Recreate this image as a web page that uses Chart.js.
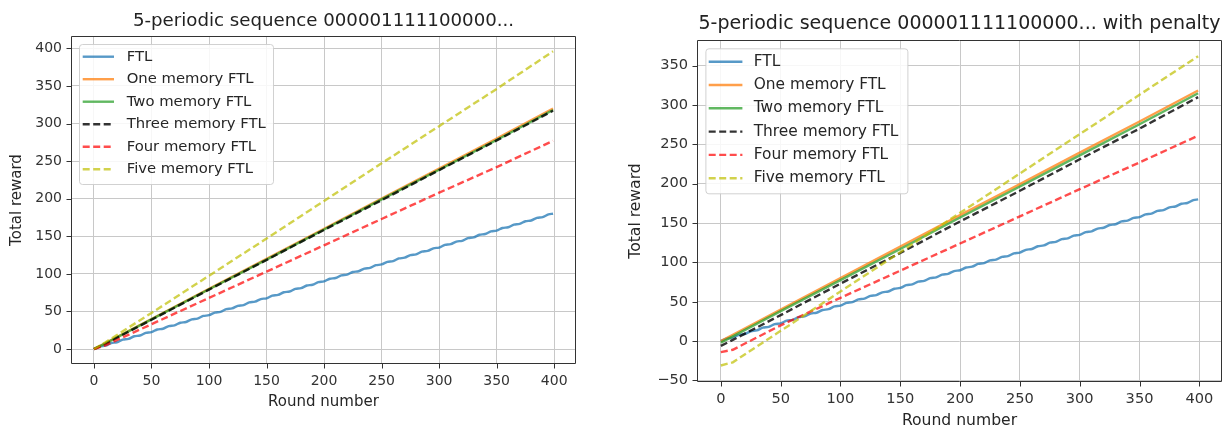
<!DOCTYPE html>
<html>
<head>
<meta charset="utf-8">
<script src="https://cdn.jsdelivr.net/npm/chart.js@4.4.1/dist/chart.umd.min.js"></script>
<style>
  html, body { margin: 0; padding: 0; background: #fff; }
  #wrap { position: relative; width: 1225px; height: 430px; }
  #left-chart { position: absolute; left: 0; top: 0; }
  #right-chart { position: absolute; left: 600px; top: 0; }
</style>
</head>
<body>
<div id="wrap">
  <canvas id="left-chart" width="600" height="430"></canvas>
  <canvas id="right-chart" width="625" height="430"></canvas>
</div>
<script>
// Noms des séries (légende)
const seriesNames = ['FTL', 'One memory FTL', 'Two memory FTL', 'Three memory FTL', 'Four memory FTL', 'Five memory FTL'];

// Rounds
const rounds = [0, 10, 50, 100, 150, 200, 250, 300, 350, 399];
const ftlRounds = [0, 5, 10, 15, 20, 25, 30, 35, 40, 45, 50, 55, 60, 65, 70, 75, 80, 85, 90, 95,
    100, 105, 110, 115, 120, 125, 130, 135, 140, 145, 150, 155, 160, 165, 170, 175, 180, 185, 190, 195,
    200, 205, 210, 215, 220, 225, 230, 235, 240, 245, 250, 255, 260, 265, 270, 275, 280, 285, 290, 295,
    300, 305, 310, 315, 320, 325, 330, 335, 340, 345, 350, 355, 360, 365, 370, 375, 380, 385, 390, 395, 399];

// FTL (identique sur les deux graphiques)
const ftlReward = [0, 3.5, 4.5, 8, 9, 12.5, 13.5, 17, 18, 21.5, 22.5, 26, 27, 30.5, 31.5, 35, 36, 39.5, 40.5, 44,
    45, 48.5, 49.5, 53, 54, 57.5, 58.5, 62, 63, 66.5, 67.5, 71, 72, 75.5, 76.5, 80, 81, 84.5, 85.5, 89,
    90, 93.5, 94.5, 98, 99, 102.5, 103.5, 107, 108, 111.5, 112.5, 116, 117, 120.5, 121.5, 125, 126, 129.5, 130.5, 134,
    135, 138.5, 139.5, 143, 144, 147.5, 148.5, 152, 153, 156.5, 157.5, 161, 162, 165.5, 166.5, 170, 171, 174.5, 175.5, 179, 180];

// Graphique de gauche
const oneMem = [0, 8, 40, 80, 120, 160, 200, 240, 280, 320];
const twoMem = [0, 7.5, 39.5, 79.5, 119, 159, 199, 238.5, 278, 318];
const threeMem = [0, 7, 39, 79, 118.5, 158.5, 198, 238, 277.5, 317];
const fourMem = [0, 5, 33, 68, 103, 138, 173, 208, 242, 277];
const fiveMem = [0, 9, 48, 97.5, 147, 197, 247, 296.5, 346, 396];

// Graphique de droite (avec pénalité)
const oneMemPen = [0, 8, 40, 80, 120, 160, 199.5, 239.5, 279, 318.5];
const twoMemPen = [-2, 6, 38, 77.5, 117, 157, 196.5, 236, 275.5, 315];
const threeMemPen = [-6, 1.5, 33, 73, 112, 152, 191, 231, 270, 310];
const fourMemPen = [-14, -11, 20, 55, 89.5, 124, 158.5, 193, 227, 261];
const fiveMemPen = [-31, -27, 13, 63, 113, 163, 213, 263, 313, 362];

const xTicks = [0, 50, 100, 150, 200, 250, 300, 350, 400];

// Styles des lignes
const lineColors = ['rgba(31,119,180,0.75)', 'rgba(255,127,14,0.75)', 'rgba(44,160,44,0.75)',
    'rgba(0,0,0,0.8)', 'rgba(255,0,0,0.7)', 'rgba(191,191,0,0.7)'];
const lineDashes = [[], [], [], [7, 3.5], [7, 3.5], [7, 3.5]];

function toPoints(xs, ys) {
    return xs.map((x, i) => ({ x: x, y: ys[i] }));
}

function buildDatasets(series) {
    return series.map((s, i) => ({
        label: seriesNames[i],
        data: toPoints(s.x, s.y),
        borderColor: lineColors[i],
        borderDash: lineDashes[i],
        borderWidth: 2.4,
        pointRadius: 0,
        fill: false,
        cubicInterpolationMode: i === 0 ? 'monotone' : 'default',
        order: 6 - i
    }));
}

// Cadre complet, petites graduations et légende encadrée
const boxPlugin = {
    id: 'boxLegend',
    afterDraw(chart, args, opts) {
        const { ctx, chartArea: a } = chart;
        const L = Math.round(a.left) + 0.5, R = Math.round(a.right) - 0.5;
        const T = Math.round(a.top) + 0.5, B = Math.round(a.bottom) - 0.5;
        ctx.save();
        ctx.strokeStyle = '#333';
        ctx.lineWidth = 1;
        ctx.beginPath();
        ctx.moveTo(L, T); ctx.lineTo(R, T); ctx.lineTo(R, B); ctx.lineTo(L, B); ctx.closePath();
        // graduations extérieures
        chart.scales.x.ticks.forEach(t => {
            const px = Math.round(chart.scales.x.getPixelForValue(t.value)) + 0.5;
            ctx.moveTo(px, B); ctx.lineTo(px, B + 5);
        });
        chart.scales.y.ticks.forEach(t => {
            const py = Math.round(chart.scales.y.getPixelForValue(t.value)) + 0.5;
            ctx.moveTo(L, py); ctx.lineTo(L - 5, py);
        });
        ctx.stroke();

        const x = a.left + opts.dx, y = a.top + opts.dy;
        ctx.beginPath();
        ctx.roundRect(x + 0.5, y + 0.5, opts.w, opts.h, 3);
        ctx.fillStyle = 'rgba(255,255,255,0.85)';
        ctx.fill();
        ctx.strokeStyle = 'rgba(204,204,204,0.9)';
        ctx.stroke();
        ctx.font = opts.fontSize + 'px "DejaVu Sans"';
        ctx.textBaseline = 'middle';
        chart.data.datasets.forEach((ds, i) => {
            const rowY = y + opts.first + i * opts.rowH;
            ctx.beginPath();
            ctx.setLineDash(ds.borderDash);
            ctx.strokeStyle = ds.borderColor;
            ctx.lineWidth = 2.4;
            ctx.moveTo(x + opts.sx0, rowY);
            ctx.lineTo(x + opts.sx1, rowY);
            ctx.stroke();
            ctx.setLineDash([]);
            ctx.fillStyle = '#262626';
            ctx.fillText(ds.label, x + opts.tx, rowY);
        });
        ctx.restore();
    }
};

function makeChart(id, cfg) {
    const fontSize = cfg.fontSize;
    return new Chart(document.getElementById(id), {
        type: 'line',
        data: { datasets: buildDatasets(cfg.series) },
        plugins: [boxPlugin],
        options: {
            responsive: false,
            animation: false,
            layout: { padding: { left: 0, right: cfg.padRight, top: 0, bottom: 0 } },
            plugins: {
                legend: { display: false },
                tooltip: { enabled: false },
                title: {
                    display: true,
                    text: cfg.title,
                    fullSize: false,
                    color: '#222',
                    font: { family: 'DejaVu Sans', size: cfg.titleSize, weight: 'normal', lineHeight: 1.2 },
                    padding: { top: cfg.titleTop, bottom: cfg.titleBottom }
                },
                boxLegend: cfg.legend
            },
            scales: {
                x: {
                    type: 'linear',
                    min: -19.95,
                    max: 418.95,
                    afterFit: (s) => { s.height = cfg.xHeight; },
                    afterBuildTicks: (s) => { s.ticks = xTicks.map(v => ({ value: v })); },
                    ticks: {
                        color: '#333',
                        padding: cfg.xTickPad,
                        maxRotation: 0,
                        font: { family: 'DejaVu Sans', size: fontSize }
                    },
                    grid: { color: '#c8c8c8', lineWidth: 1, drawTicks: true, tickLength: 5, tickColor: 'rgba(0,0,0,0)' },
                    border: { display: false },
                    title: {
                        display: true,
                        text: 'Round number',
                        color: '#262626',
                        font: { family: 'DejaVu Sans', size: cfg.labelSize },
                        padding: { top: 0, bottom: cfg.xTitlePad }
                    }
                },
                y: {
                    type: 'linear',
                    min: cfg.yMin,
                    max: cfg.yMax,
                    afterFit: (s) => { s.width = cfg.yWidth; },
                    afterBuildTicks: (s) => { s.ticks = cfg.yTicks.map(v => ({ value: v })); },
                    ticks: {
                        color: '#333',
                        padding: 4,
                        callback: (v) => (v < 0 ? '\u2212' + Math.abs(v) : String(v)),
                        font: { family: 'DejaVu Sans', size: fontSize }
                    },
                    grid: { color: '#c8c8c8', lineWidth: 1, drawTicks: true, tickLength: 5, tickColor: 'rgba(0,0,0,0)' },
                    border: { display: false },
                    title: {
                        display: true,
                        text: 'Total reward',
                        color: '#262626',
                        font: { family: 'DejaVu Sans', size: cfg.labelSize },
                        padding: { top: cfg.yTitlePad, bottom: 0 }
                    }
                }
            }
        }
    });
}

makeChart('left-chart', {
    title: '5-periodic sequence 000001111100000...',
    series: [
        { x: ftlRounds, y: ftlReward },
        { x: rounds, y: oneMem },
        { x: rounds, y: twoMem },
        { x: rounds, y: threeMem },
        { x: rounds, y: fourMem },
        { x: rounds, y: fiveMem }
    ],
    fontSize: 14, labelSize: 15, titleSize: 18.2,
    titleTop: 10.1, titleBottom: 4.06,
    padRight: 24, yWidth: 71, xHeight: 66,
    xTickPad: 4, xTitlePad: 19, yTitlePad: 8,
    yMin: -19.9, yMax: 416.4,
    yTicks: [0, 50, 100, 150, 200, 250, 300, 350, 400],
    legend: { dx: 8, dy: 8, w: 194, h: 140, first: 12.7, rowH: 22.5, sx0: 3.7, sx1: 35, tx: 47.7, fontSize: 14.8 }
});

makeChart('right-chart', {
    title: '5-periodic sequence 000001111100000... with penalty',
    series: [
        { x: ftlRounds, y: ftlReward },
        { x: rounds, y: oneMemPen },
        { x: rounds, y: twoMemPen },
        { x: rounds, y: threeMemPen },
        { x: rounds, y: fourMemPen },
        { x: rounds, y: fiveMemPen }
    ],
    fontSize: 14.6, labelSize: 15.6, titleSize: 19,
    titleTop: 12.6, titleBottom: 4.6,
    padRight: 3, yWidth: 97, xHeight: 48,
    xTickPad: 3, xTitlePad: 0, yTitlePad: 27,
    yMin: -52, yMax: 382.6,
    yTicks: [-50, 0, 50, 100, 150, 200, 250, 300, 350],
    legend: { dx: 8.4, dy: 8.3, w: 202, h: 145, first: 13.4, rowH: 23.3, sx0: 3.3, sx1: 37, tx: 48.3, fontSize: 15.4 }
});
</script>
</body>
</html>
